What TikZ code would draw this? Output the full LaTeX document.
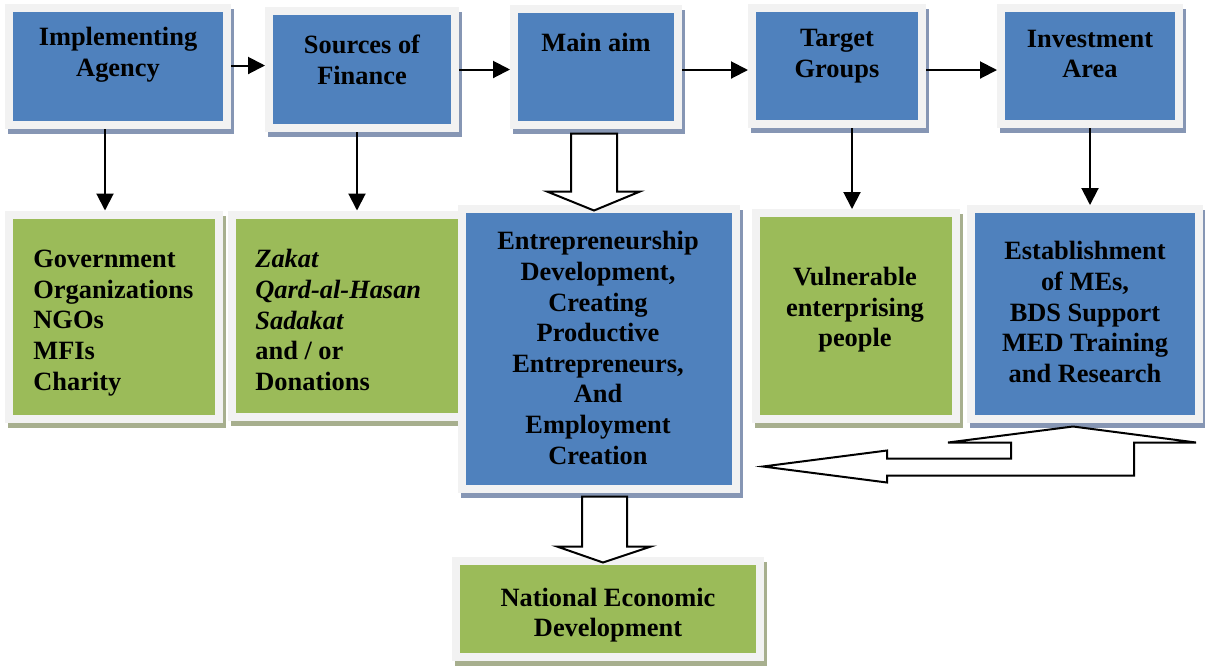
\documentclass[tikz,border=0pt]{standalone}
\usepackage{fontspec}
\setmainfont{Liberation Serif}
\usetikzlibrary{arrows.meta,calc}

\definecolor{boxblue}{HTML}{4F81BD}
\definecolor{boxgreen}{HTML}{9BBB59}
\definecolor{frame}{HTML}{F2F2F2}
\definecolor{shadeblue}{HTML}{8696B4}
\definecolor{shadegreen}{HTML}{A7AF8E}

\begin{document}
\begin{tikzpicture}[x=0.5pt,y=-0.5pt,
  box/.style={draw=frame,line width=4pt,rectangle,inner sep=0pt},
  bluebox/.style={box,fill=boxblue,preaction={draw=shadeblue,fill=shadeblue,transform canvas={shift={(1.5pt,-2.5pt)}}}},
  greenbox/.style={box,fill=boxgreen,preaction={draw=shadegreen,fill=shadegreen,transform canvas={shift={(1.5pt,-2.5pt)}}}},
  txt/.style={font=\fontsize{13.2}{15.3}\selectfont\bfseries,align=center,inner sep=0pt},
  arr/.style={line width=1pt,-{Triangle[length=8.5pt,width=8.5pt]}},
  blockarr/.style={line width=1pt,fill=white,line join=miter}]
\useasboundingbox (0,0) rectangle (1205,666);

\node (agency) [bluebox,minimum width=109pt,minimum height=58.5pt] at(118,66.5) {};
\node (finance) [bluebox,minimum width=93pt,minimum height=58.5pt] at(362,69.5) {};
\node (mainaim) [bluebox,minimum width=82pt,minimum height=58pt] at(596,67) {};
\node (target) [bluebox,minimum width=85pt,minimum height=58pt] at(837,66) {};
\node (invest) [bluebox,minimum width=89pt,minimum height=58pt] at(1090,66) {};
\node (agency-t) [txt] at(118,55) {Implementing\\Agency};
\node (finance-t) [txt] at(362,60) {Sources of\\Finance};
\node (mainaim-t) [txt] at(596,42) {Main aim};
\node (target-t) [txt] at(837,56) {Target\\Groups};
\node (invest-t) [txt] at(1090,54) {Investment\\Area};

\node (govt) [greenbox,minimum width=105pt,minimum height=102pt] at(114,316.5) {};
\node (zakat) [greenbox,minimum width=117pt,minimum height=101pt] at(349,315.5) {};
\node (entre) [bluebox,minimum width=137pt,minimum height=140pt] at(599,349) {};
\node (vulner) [greenbox,minimum width=100pt,minimum height=103pt] at(856,316) {};
\node (establ) [bluebox,minimum width=114pt,minimum height=105pt] at(1085,314) {};
\node (nation) [greenbox,minimum width=152pt,minimum height=48pt] at(608,609) {};

\node (govt-t) [txt,align=left,anchor=west] at(33,323) {Government\\Organizations\\NGOs\\MFIs\\Charity};
\node (zakat-t) [txt,align=left,anchor=west] at(255,320) {\textit{Zakat}\\\textit{Qard-al-Hasan}\\\textit{Sadakat}\\and / or\\Donations};
\node (entre-t) [txt] at(598,348) {Entrepreneurship\\Development,\\Creating\\Productive\\Entrepreneurs,\\And\\Employment\\Creation};
\node (vulner-t) [txt] at(855,310) {Vulnerable\\enterprising\\people};
\node (establ-t) [txt] at(1085,312) {Establishment\\of MEs,\\BDS Support\\MED Training\\and Research};
\node (nation-t) [txt] at(608,615) {National Economic\\Development};

\draw [arr] ([yshift=0.5pt]agency.east) -- ([yshift=0.5pt]agency.east -| finance.west);
\draw [arr] (finance.east) -- (finance.east -| mainaim.west);
\draw [arr] ([yshift=-1.5pt]mainaim.east) -- ([yshift=-1.5pt]mainaim.east -| target.west);
\draw [arr] ([yshift=-2pt]target.east) -- ([yshift=-2pt]target.east -| invest.west);

\draw [arr] ([xshift=-6.5pt]agency.south) -- ([xshift=-6.5pt]agency.south |- govt.north);
\draw [arr] ([xshift=-2.5pt]finance.south) -- ([xshift=-2.5pt]finance.south |- zakat.north);
\draw [arr] ([xshift=7.5pt]target.south) -- ([xshift=7.5pt]target.south |- vulner.north);
\draw [arr] (invest.south) -- (invest.south |- establ.north);

\draw [blockarr] ($(mainaim.south)+(-25,4.5)$) -- ++(0,58) -- ++(-24,0) -- ++(47,19)
  -- ++(46,-19) -- ++(-23,0) -- ++(0,-58) -- cycle;
\draw [blockarr] ($(entre.south)+(-17,3.5)$) -- ++(0,50) -- ++(-25,0) -- ++(46,16)
  -- ++(48,-16) -- ++(-24,0) -- ++(0,-50) -- cycle;
\draw [blockarr] ($(establ.south)+(-12,3.5)$) -- ++(123,16) -- ++(-62,0) -- ++(0,33)
  -- ++(-247,0) -- ++(0,7) -- ++(-124,-16) -- ++(124,-16) -- ++(0,8) -- ++(124,0)
  -- ++(0,-16) -- ++(-63,0) -- cycle;
\end{tikzpicture}
\end{document}
